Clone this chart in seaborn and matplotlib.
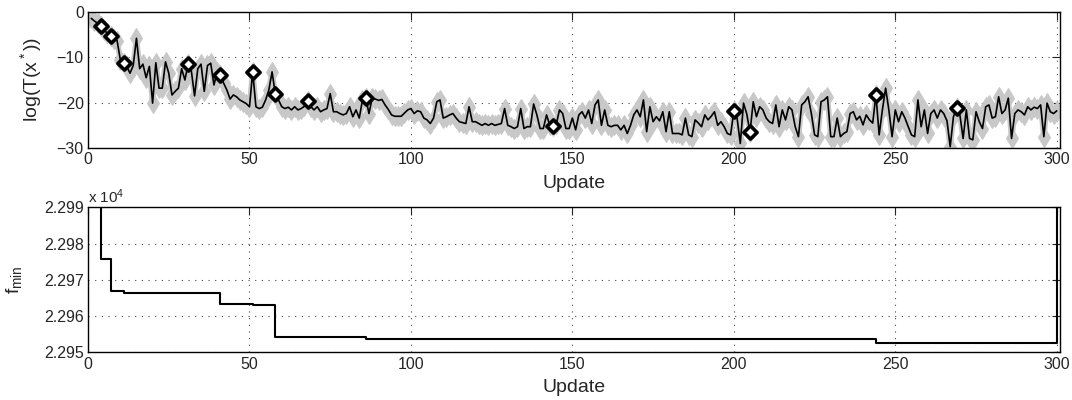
import seaborn as sns
import matplotlib.pyplot as plt
import numpy as np

# log(T(x*)) per update
log_t = [
    -1.4, -2.0, -2.5, -3.0, -4.0, -4.7, -5.4, -6.0, -6.3, -10.5,
    -11.3, -12.0, -13.5, -11.8, -5.8, -12.5, -11.5, -14.5, -12.0, -20.1,
    -11.2, -16.8, -16.8, -11.0, -13.5, -18.3, -17.5, -16.8, -12.5, -15.0,
    -11.5, -13.0, -18.5, -12.5, -11.5, -17.5, -11.8, -11.3, -16.1, -13.2,
    -13.9, -15.7, -17.2, -19.2, -18.3, -18.7, -19.4, -19.8, -20.2, -20.9,
    -13.2, -20.9, -21.3, -21.0, -19.4, -17.2, -13.2, -18.1, -19.4, -20.9,
    -21.3, -21.0, -21.6, -20.9, -21.6, -21.3, -20.8, -19.6, -20.9, -21.6,
    -20.9, -22.0, -21.6, -21.3, -18.0, -22.0, -22.0, -22.4, -22.7, -22.4,
    -20.9, -23.1, -21.6, -23.4, -19.4, -18.9, -22.4, -19.0, -19.2, -19.5,
    -19.3, -20.5, -21.5, -22.7, -23.0, -23.0, -23.0, -22.3, -21.6, -21.3,
    -22.4, -21.8, -22.0, -23.4, -23.8, -24.6, -23.4, -19.8, -19.4, -23.4,
    -23.1, -22.7, -22.4, -23.4, -24.2, -24.4, -24.6, -20.9, -24.2, -24.2,
    -24.6, -25.0, -24.6, -25.0, -24.6, -25.0, -24.8, -24.6, -21.3, -25.0,
    -25.3, -25.7, -25.3, -21.3, -25.7, -25.3, -25.3, -20.3, -22.7, -25.7,
    -25.7, -22.7, -25.0, -25.2, -24.8, -21.6, -22.4, -25.7, -25.7, -23.4,
    -26.0, -22.7, -22.0, -23.4, -21.6, -24.6, -20.5, -19.4, -25.0, -21.6,
    -25.0, -25.3, -25.0, -25.0, -26.0, -25.0, -26.8, -25.0, -22.7, -21.6,
    -23.1, -19.4, -26.4, -20.9, -24.2, -23.1, -24.0, -22.0, -26.4, -22.0,
    -26.8, -26.8, -26.8, -27.1, -23.4, -27.1, -27.5, -23.8, -24.5, -25.3,
    -22.7, -23.8, -23.0, -22.0, -25.0, -24.2, -25.3, -26.8, -27.1, -21.8,
    -23.4, -29.0, -20.1, -22.5, -26.5, -19.8, -23.1, -20.9, -21.6, -23.4,
    -24.2, -24.6, -20.5, -25.3, -21.6, -23.8, -20.9, -21.6, -25.3, -27.5,
    -20.5, -19.8, -18.7, -22.4, -27.1, -27.5, -19.8, -19.4, -18.7, -27.5,
    -27.5, -23.4, -27.5, -26.8, -26.4, -22.4, -22.0, -23.8, -23.0, -24.9,
    -22.7, -23.8, -24.5, -18.3, -27.1, -21.6, -16.8, -21.6, -27.5, -21.6,
    -24.2, -22.0, -23.4, -25.3, -27.1, -27.5, -19.4, -25.3, -21.6, -26.8,
    -22.4, -21.6, -23.4, -21.6, -22.4, -24.0, -29.7, -23.1, -21.2, -22.7,
    -27.9, -21.6, -27.9, -28.2, -22.0, -24.2, -25.7, -20.9, -20.5, -23.4,
    -23.1, -18.7, -22.4, -21.6, -19.0, -27.9, -22.4, -21.6, -22.0, -22.7,
    -20.9, -21.6, -21.0, -21.3, -20.5, -27.5, -20.1, -22.0, -22.4, -21.8,
]
updates = list(range(1, len(log_t) + 1))

# updates where a new best point was found (diamonds)
best_updates = [4, 7, 11, 31, 41, 51, 58, 68, 86, 144, 200, 205, 244, 269]

# f_min steps (raw values)
fmin_updates = [1, 4, 7, 11, 31, 41, 51, 58, 68, 86, 144, 200, 205, 244, 269, 300]
fmin_values = [23010.0, 22975.8, 22966.9, 22966.3, 22966.28, 22963.4, 22963.1,
               22954.2, 22954.15, 22953.7, 22953.68, 22953.66, 22953.64,
               22952.6, 22952.58, 23010.0]

sns.set_style("white")
plt.rcParams['font.family'] = ['Liberation Sans', 'DejaVu Sans']
plt.rcParams['mathtext.fontset'] = 'custom'
plt.rcParams['mathtext.rm'] = 'Liberation Sans'
plt.rcParams['mathtext.it'] = 'Liberation Sans:italic'

fig = plt.figure(figsize=(10.72, 4), dpi=100)
ax1 = fig.add_axes([0.0821, 0.63, 0.9067, 0.34])
ax2 = fig.add_axes([0.0821, 0.119, 0.9067, 0.3625])

# top panel
sns.lineplot(x=updates, y=log_t, ax=ax1, color='#c8c8c8', lw=4,
             marker='d', ms=10, mec='#c8c8c8', mfc='#c8c8c8')
sns.lineplot(x=updates, y=log_t, ax=ax1, color='black', lw=1.2)
best_vals = [log_t[u - 1] for u in best_updates]
sns.scatterplot(x=best_updates, y=best_vals, ax=ax1, marker='D', s=45,
                facecolor='white', edgecolor='black', linewidth=2.6, zorder=5)
ax1.set_ylim(-30, 0)
ax1.set_yticks([-30, -20, -10, 0])
ax1.set_ylabel(r'log(T(x$^*$))', fontsize=14)
ax1.yaxis.set_label_coords(-0.045, 0.5)

# bottom panel
sns.lineplot(x=fmin_updates, y=np.array(fmin_values) / 1e4, ax=ax2,
             color='black', lw=1.5, drawstyle='steps-post')
ax2.set_ylim(2.295, 2.299)
ax2.set_yticks([2.295, 2.296, 2.297, 2.298, 2.299])
ax2.set_yticklabels(['2.295', '2.296', '2.297', '2.298', '2.299'])
ax2.set_ylabel(r'f$_{\rm min}$', fontsize=14)
ax2.yaxis.set_label_coords(-0.066, 0.5)
ax2.text(0.0, 1.01, r'x 10$^4$', transform=ax2.transAxes, fontsize=11,
         ha='left', va='bottom')

for ax in (ax1, ax2):
    ax.set_xlim(0, 301)
    ax.set_xticks([0, 50, 100, 150, 200, 250, 300])
    ax.set_xlabel('Update', fontsize=14)
    ax.grid(True, color='#444444', linestyle=(0, (1, 5)), lw=0.8)
    ax.tick_params(direction='in', length=6, width=0.8, labelsize=11.5,
                   top=True, right=True, pad=3)
    for s in ax.spines.values():
        s.set_color('black')
        s.set_linewidth(1.0)
ax1.xaxis.set_label_coords(0.5, -0.2)
ax2.xaxis.set_label_coords(0.5, -0.18)

plt.savefig('out.png', dpi=100)
